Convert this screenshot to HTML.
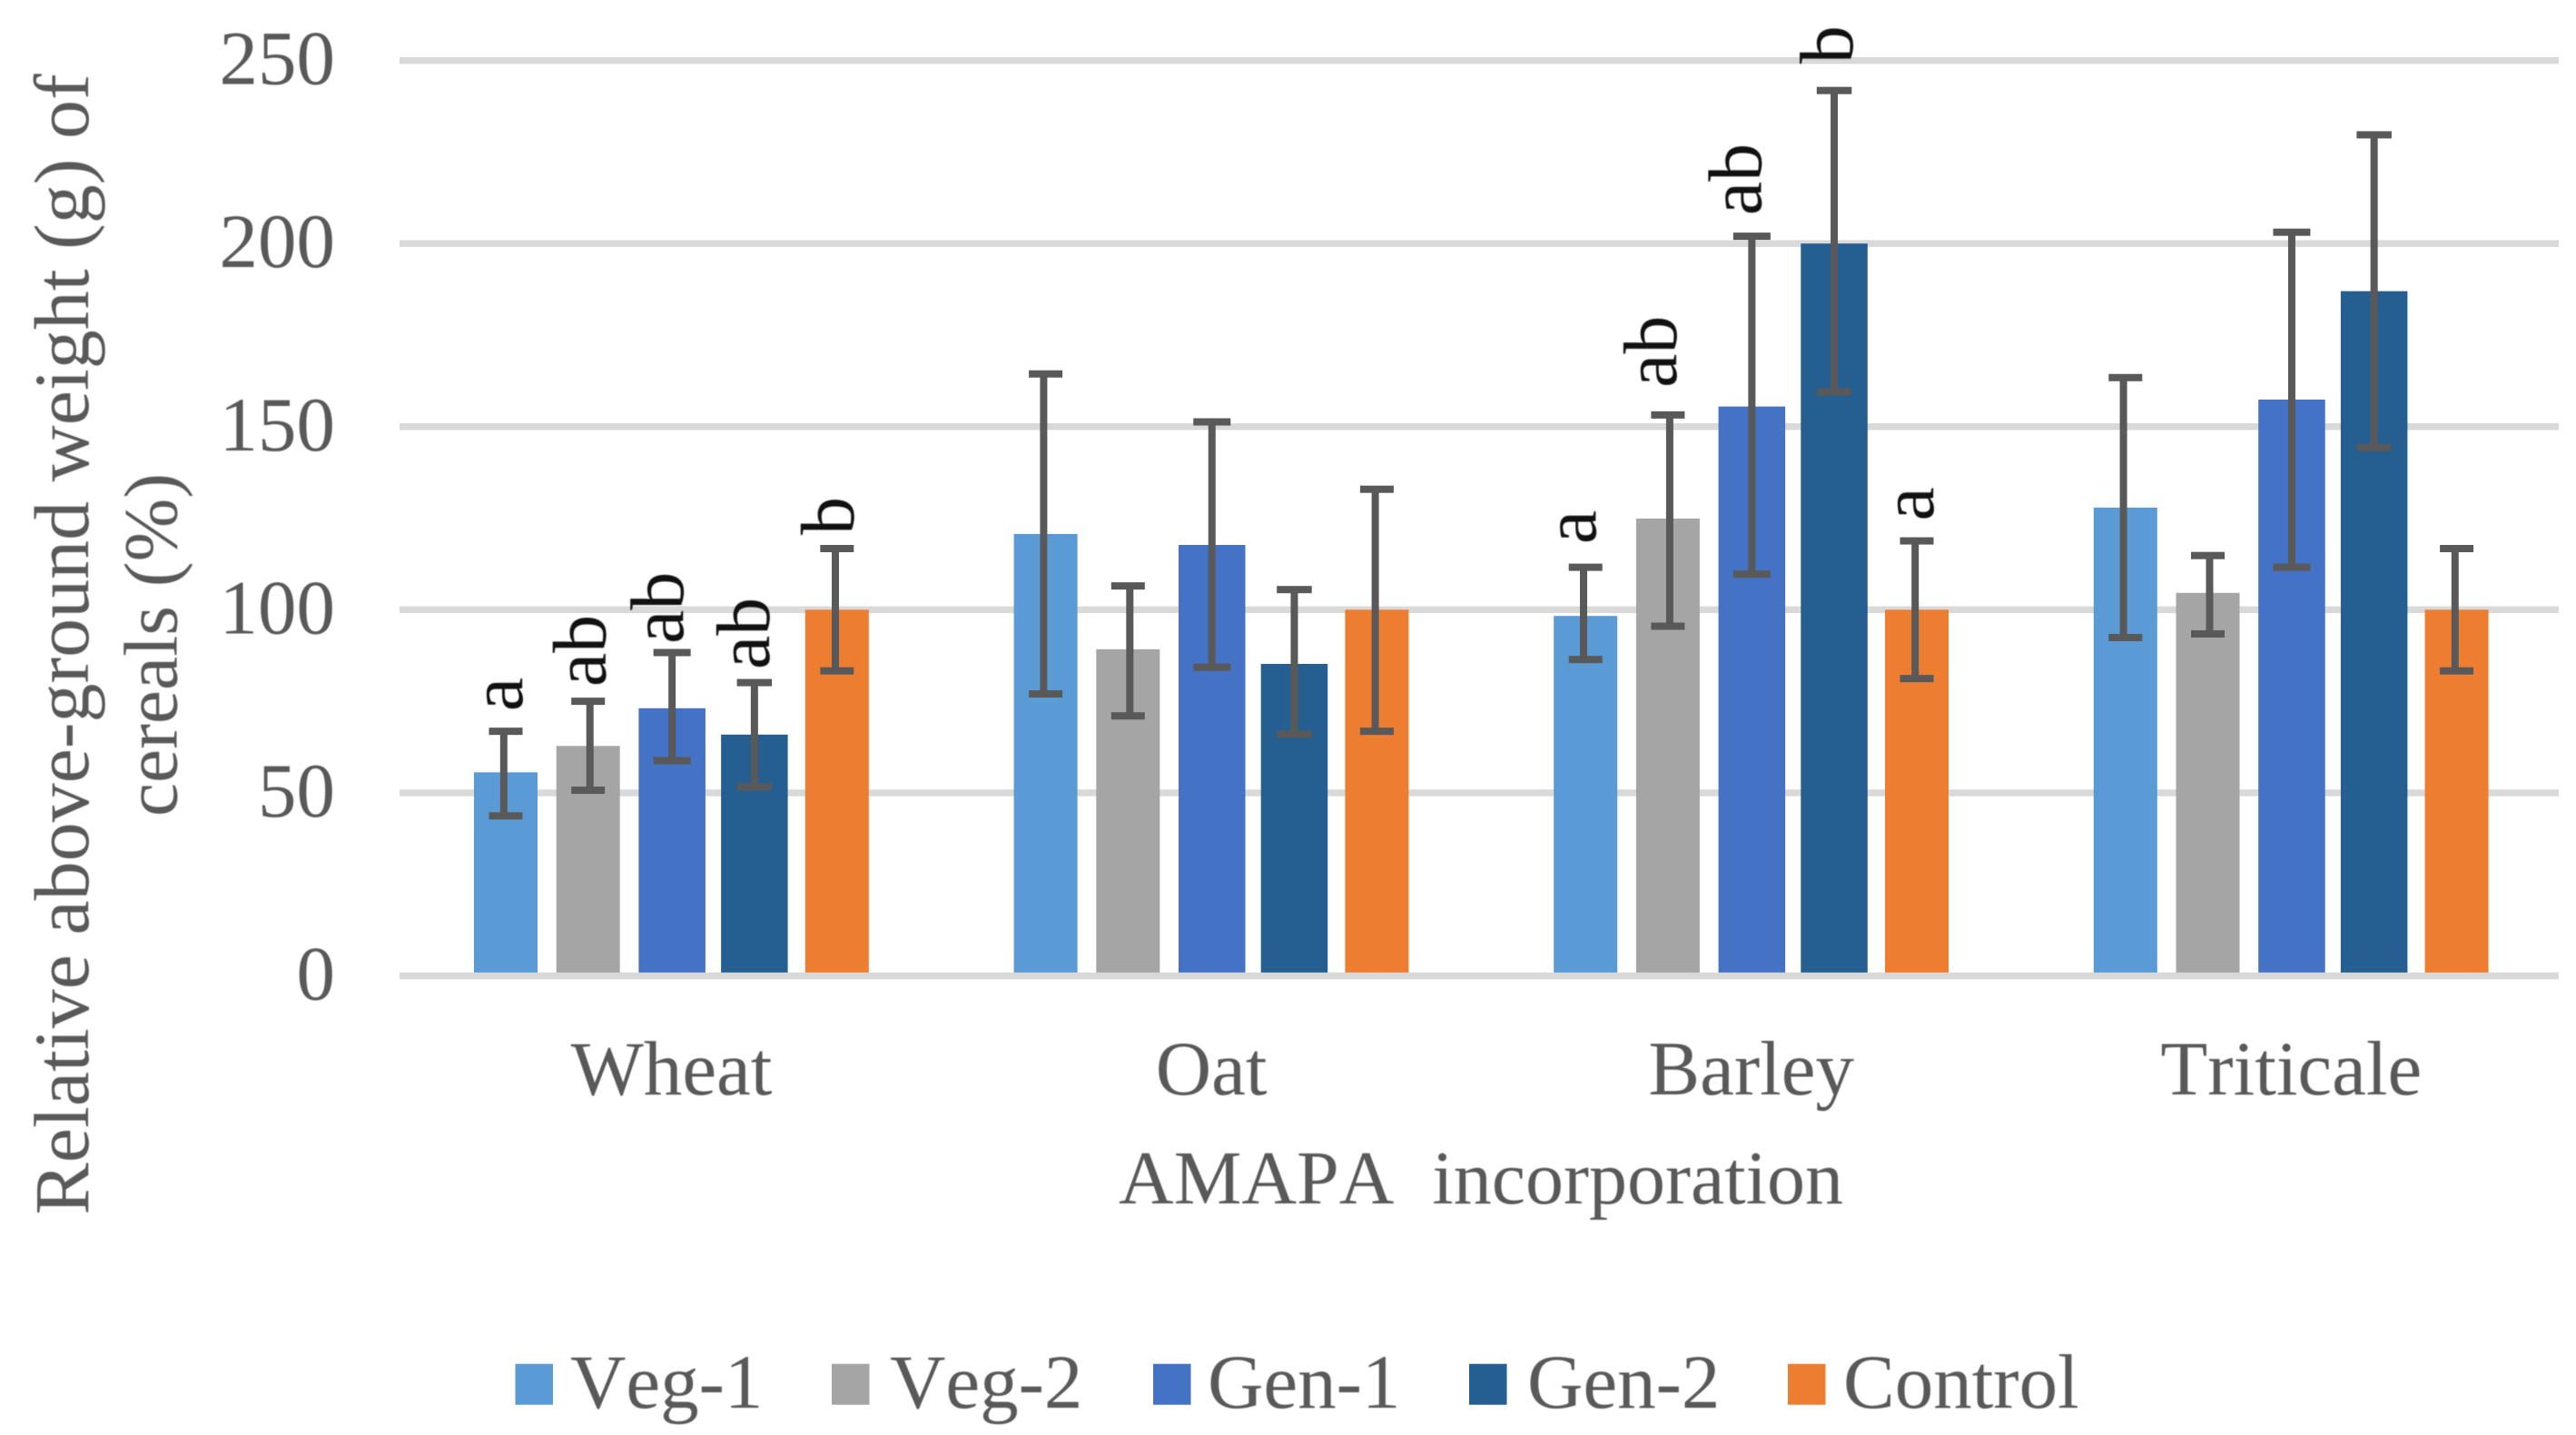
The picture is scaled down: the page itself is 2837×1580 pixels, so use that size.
<!DOCTYPE html>
<html>
<head>
<meta charset="utf-8">
<style>
html,body{margin:0;padding:0;background:#fff;width:2837px;height:1580px;overflow:hidden}
svg{display:block}
text{font-family:"Liberation Serif",serif;fill:#595959;font-kerning:none;filter:blur(0.6px)}
</style>
</head>
<body>
<svg id="chart" xmlns="http://www.w3.org/2000/svg" width="2837" height="1580" viewBox="0 0 2837 1580"></svg>
<script>
const categories = ["Wheat", "Oat", "Barley", "Triticale"];
const seriesNames = ["Veg-1", "Veg-2", "Gen-1", "Gen-2", "Control"];
const yTicks = [0, 50, 100, 150, 200, 250];

const veg1Values = [55.6, 120.7, 98.3, 127.9];
const veg2Values = [62.8, 89.2, 124.9, 104.6];
const gen1Values = [73.1, 117.7, 155.5, 157.4];
const gen2Values = [65.9, 85.2, 200, 187];
const controlValues = [100, 100, 100, 100];

const veg1ErrHigh = [66.8, 164.4, 111.6, 163.4];
const veg1ErrLow = [43.7, 77, 86.4, 92.4];
const veg2ErrHigh = [75, 106.5, 153.2, 114.8];
const veg2ErrLow = [50.7, 71, 95.5, 93.4];
const gen1ErrHigh = [88.3, 151.3, 202, 203.1];
const gen1ErrLow = [58.8, 84.3, 109.7, 111.6];
const gen2ErrHigh = [80.1, 105.5, 241.8, 229.7];
const gen2ErrLow = [51.6, 66, 159.5, 144.3];
const controlErrHigh = [116.7, 132.9, 118.8, 116.7];
const controlErrLow = [83.3, 66.8, 81.2, 83.3];

const wheatLetters = ["a", "ab", "ab", "ab", "b"];
const barleyLetters = ["a", "ab", "ab", "b", "a"];

const NS = "http://www.w3.org/2000/svg";
const svg = document.getElementById("chart");
const seriesColors = ["#5B9BD5", "#A5A5A5", "#4472C4", "#255E91", "#ED7D31"];
const allValues = [veg1Values, veg2Values, gen1Values, gen2Values, controlValues];
const allHigh = [veg1ErrHigh, veg2ErrHigh, gen1ErrHigh, gen2ErrHigh, controlErrHigh];
const allLow = [veg1ErrLow, veg2ErrLow, gen1ErrLow, gen2ErrLow, controlErrLow];

function yScale(v) { return 1074.5 - v * (1074.5 - 66.6) / 250; }
function barLeft(g, s) { return 522 + 594.6 * g + 90.7 * s + (s === 4 ? 2 : 0); }
function barWidth(s) { return (s === 2 || s === 3) ? 73.5 : 70; }
function barCenter(g, s) { return barLeft(g, s) + barWidth(s) / 2; }
function groupCenter(g) { return 739.5 + 594.6 * g; }
function stemShift(s) { return s === 0 ? -2.2 : s === 1 ? 2 : s === 4 ? -1.8 : 0; }

function shape(tag, attrs, parent) {
  const el = document.createElementNS(NS, tag);
  for (const k in attrs) el.setAttribute(k, attrs[k]);
  (parent || svg).appendChild(el);
  return el;
}
function slug(s) { return s.toLowerCase().replace(/[^a-z0-9]+/g, "-"); }

// gridlines and y tick labels
yTicks.forEach(function (t) {
  if (t !== 0) {
    const line = shape("rect", { x: 440, y: yScale(t) - 3.75, width: 2378, height: 7.5, fill: "#D9D9D9" });
    
    
  }
  const lab = shape("text", { x: 369, y: yScale(t) + 26, "font-size": 85, "text-anchor": "end" });
  lab.textContent = String(t);
  
  
});

// bars
categories.forEach(function (cat, g) {
  seriesNames.forEach(function (name, s) {
    const top = yScale(allValues[s][g]);
    const bar = shape("rect", { x: barLeft(g, s), y: top, width: barWidth(s), height: yScale(0) - top, fill: seriesColors[s] });
    
    
  });
});

// baseline over the bars
const zeroLine = shape("rect", { x: 440, y: yScale(0) - 3.75, width: 2378, height: 7.5, fill: "#D9D9D9" });



// error bars
categories.forEach(function (cat, g) {
  seriesNames.forEach(function (name, s) {
    const cx = barCenter(g, s);
    const hi = yScale(allHigh[s][g]);
    const lo = yScale(allLow[s][g]);
    const capW = (s === 2) ? 41 : (s === 3) ? 38.5 : 37;
    const grp = shape("g", { fill: "#595959" });
    
    
    shape("rect", { x: cx + stemShift(s) - 4, y: hi, width: 8, height: lo - hi }, grp);
    shape("rect", { x: cx - capW / 2, y: hi - 4, width: capW, height: 8 }, grp);
    shape("rect", { x: cx - capW / 2, y: lo - 4, width: capW, height: 8 }, grp);
  });
});

// significance letters (rotated, hand-placed above the error bars in the source figure)
function drawLetters(letters, g, nudges) {
  letters.forEach(function (txt, s) {
    const bx = barCenter(g, s) + nudges[s][0];
    const by = yScale(allHigh[s][g]) + nudges[s][1];
    const t = shape("text", { x: 0, y: 0, "font-size": 84, transform: "translate(" + bx + " " + by + ") rotate(-90)" });
    t.style.fill = "#111";
    t.textContent = txt;
    
    
  });
}
drawLetters(wheatLetters, 0, [[18, -22], [19, -16], [12, -9.6], [16, -14.5], [18, -15]]);
drawLetters(barleyLetters, 2, [[11, -25.5], [9, -30], [10, -23], [20, -29.5], [18, -22]]);

// category labels
categories.forEach(function (cat, g) {
  const t = shape("text", { x: groupCenter(g), y: 1205, "font-size": 85, "text-anchor": "middle" });
  t.textContent = cat;
  
  
});

// legend
const legendSwatch = [567.5, 916, 1270, 1618, 1969];
const legendLabel = [628, 980, 1330, 1682, 2030];
seriesNames.forEach(function (name, s) {
  const entry = shape("g", {});
  
  
  const sw = shape("rect", { x: legendSwatch[s], y: 1501.7, width: 41.5, height: 45, fill: seriesColors[s] }, entry);
  
  
  const t = shape("text", { x: legendLabel[s], y: 1550, "font-size": 85 }, entry);
  t.textContent = name;
  
  
});
</script>
<script>
(function () {
  const s = document.getElementById("chart");
  const NS2 = "http://www.w3.org/2000/svg";
  const xt = document.createElementNS(NS2, "text");
  xt.setAttribute("x", "1631");
  xt.setAttribute("y", "1325");
  xt.setAttribute("font-size", "84");
  xt.setAttribute("text-anchor", "middle");
  xt.setAttribute("xml:space", "preserve");
  xt.style.whiteSpace = "pre";
  xt.textContent = "AMAPA  incorporation";
  
  
  s.appendChild(xt);

  const y1 = document.createElementNS(NS2, "text");
  y1.setAttribute("font-size", "86");
  y1.setAttribute("text-anchor", "middle");
  y1.setAttribute("transform", "translate(97 709.5) rotate(-90)");
  y1.textContent = "Relative above-ground weight (g) of";
  
  
  s.appendChild(y1);

  const y2 = document.createElementNS(NS2, "text");
  y2.setAttribute("font-size", "83.6");
  y2.setAttribute("text-anchor", "middle");
  y2.setAttribute("transform", "translate(194.5 710) rotate(-90)");
  y2.textContent = "cereals (%)";
  
  
  s.appendChild(y2);
})();
</script>
</body>
</html>
